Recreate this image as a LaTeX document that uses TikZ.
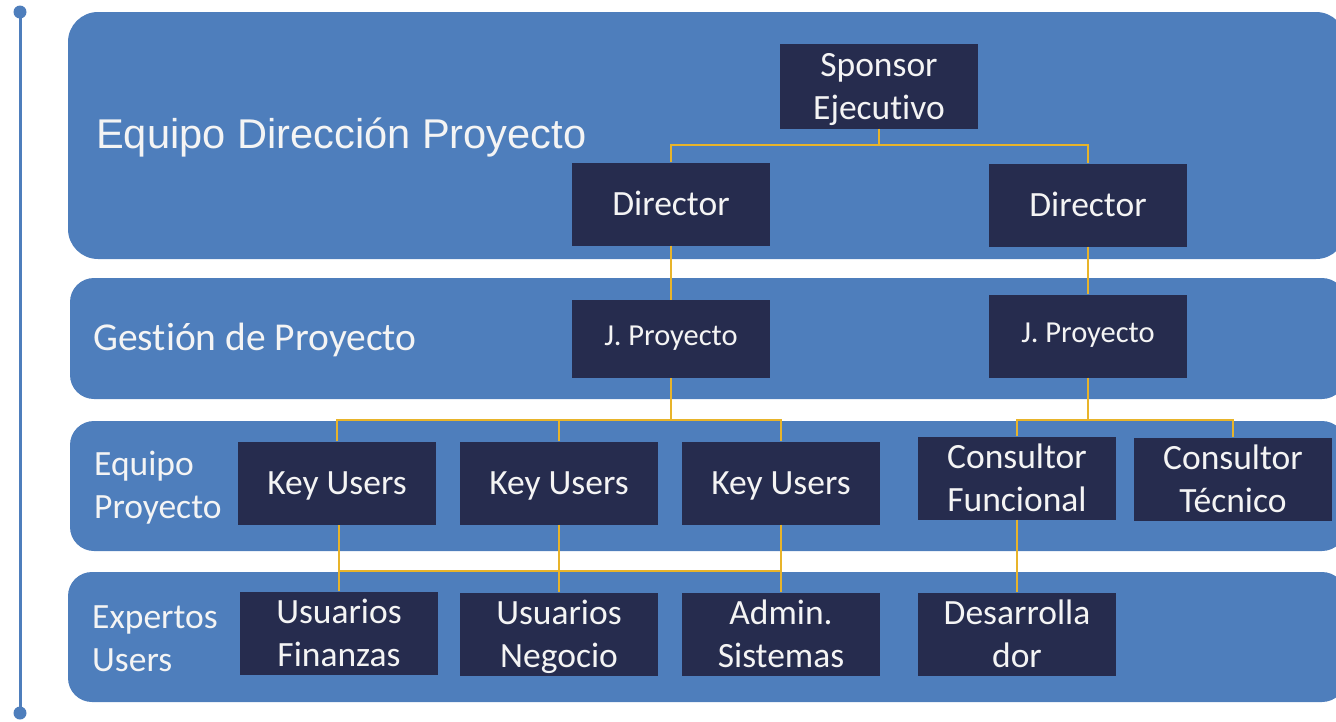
\documentclass[tikz,border=0pt]{standalone}
\usepackage{fontspec}
\setmainfont{Carlito}[RawFeature={-liga;-clig;-calt;-dlig}]
\newfontfamily\headfont{Liberation Sans}
\usetikzlibrary{positioning}

\definecolor{bandblue}{HTML}{4E7EBC}
\definecolor{boxnavy}{HTML}{262C4E}
\definecolor{linkgold}{HTML}{E8B42A}
\definecolor{txtwhite}{HTML}{F4F4F4}

\tikzset{
	band/.style={fill=bandblue, rounded corners=30pt},
	rolebox/.style={fill=boxnavy, text=txtwhite, align=center, minimum width=198pt, minimum height=83pt, inner sep=0pt, font=\fontsize{35.5}{43}\selectfont},
	oneline/.style={execute at begin node={\rule[-9pt]{0pt}{41pt}}},
	smallline/.style={font=\fontsize{30.5}{36}\selectfont, execute at begin node={\rule[-19pt]{0pt}{51pt}}},
	twoline/.style={text depth=-3pt},
	bandlabel/.style={text=txtwhite, anchor=west, align=left, inner sep=0pt, font=\fontsize{35.5}{43}\selectfont},
	link/.style={draw=linkgold, line width=1.8pt}
}

\begin{document}
\begin{tikzpicture}[x=1pt, y=-1pt]
	\useasboundingbox (0,0) rectangle (1336,721);
	% bandas
	\fill[band] (68,12) rectangle (1346,259);
	\fill[band, rounded corners=24pt] (70,278) rectangle (1346,399);
	\fill[band, rounded corners=24pt] (70,421) rectangle (1346,551);
	\fill[band, rounded corners=24pt] (68,572) rectangle (1346,702);
	\draw[bandblue, line width=3pt] (20,12) -- (20,713);
	\fill[bandblue] (20,12) circle (6.5pt);
	\fill[bandblue] (20,713) circle (6.5pt);
	% textos de las bandas
	\node[bandlabel, font=\headfont\fontsize{41.6}{48}\selectfont] (lblDir) at (96,137) {Equipo Dirección Proyecto};
	\node[bandlabel, font=\fontsize{39.5}{46}\selectfont] (lblGes) at (93,340) {Gestión de Proyecto};
	\node[bandlabel] (lblEq) at (94,488) {Equipo\\Proyecto};
	\node[bandlabel] (lblExp) at (92,639) {Expertos\\Users};
	% cajas
	\node[rolebox, twoline, minimum height=85pt] (sponsor) at (879,86) {Sponsor\\Ejecutivo};
	\node[rolebox, oneline] (dirA) at (671,204) {Director};
	\node[rolebox, oneline] (dirB) at (1088,205) {Director};
	\node[rolebox, smallline, minimum height=78pt] (jefeA) at (671,339) {J. Proyecto};
	\node[rolebox, smallline] (jefeB) at (1088,336) {J. Proyecto};
	\node[rolebox, oneline] (keyA) at (337,483) {Key Users};
	\node[rolebox, oneline] (keyB) at (559,483) {Key Users};
	\node[rolebox, oneline] (keyC) at (781,483) {Key Users};
	\node[rolebox, twoline] (consF) at (1017,478) {Consultor\\Funcional};
	\node[rolebox, twoline] (consT) at (1233,479) {Consultor\\Técnico};
	\node[rolebox, twoline] (usFin) at (339,633) {Usuarios\\Finanzas};
	\node[rolebox, twoline] (usNeg) at (559,634) {Usuarios\\Negocio};
	\node[rolebox, twoline] (admin) at (781,634) {Admin.\\Sistemas};
	\node[rolebox, twoline] (desa) at (1017,634) {Desarrolla\\dor};
	% conexiones
	\coordinate (hubDir) at (879,145);
	\coordinate (hubJA) at (671,420);
	\coordinate (hubJB) at (1088,420);
	\coordinate (hubExp) at (339,571);
	\draw[link] (sponsor.south) -- (hubDir);
	\draw[link] (dirA.north) |- (hubDir) -| (dirB.north);
	\draw[link] (dirA.south) -- (jefeA.north);
	\draw[link] (dirB.south) -- (jefeB.north);
	\draw[link] (jefeA.south) -- (hubJA);
	\draw[link] (keyA.north) |- (hubJA) -| (keyC.north);
	\draw[link] (keyB.north) -- (keyB.north |- hubJA);
	\draw[link] (jefeB.south) -- (hubJB);
	\draw[link] (consF.north) |- (hubJB) -| (consT.north);
	\draw[link] (usFin.north) -- (usFin.north |- keyA.south);
	\draw[link] (keyB.south) -- (usNeg.north);
	\draw[link] (keyC.south) -- (admin.north);
	\draw[link] (hubExp) -- (hubExp -| admin.north);
	\draw[link] (consF.south) -- (desa.north);
\end{tikzpicture}
\end{document}
